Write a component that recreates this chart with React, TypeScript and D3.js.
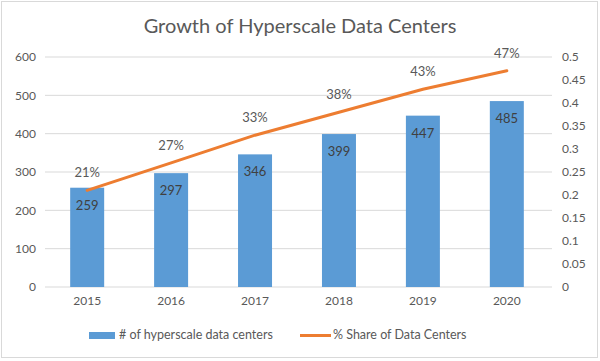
import * as d3 from "d3";

const years = ["2015", "2016", "2017", "2018", "2019", "2020"];
const centers = [259, 297, 346, 399, 447, 485];
const share = [0.21, 0.27, 0.33, 0.38, 0.43, 0.47];
const shareLabels = ["21%", "27%", "33%", "38%", "43%", "47%"];
const leftTicks = [0, 100, 200, 300, 400, 500, 600];
const rightTicks = [0, 0.05, 0.1, 0.15, 0.2, 0.25, 0.3, 0.35, 0.4, 0.45, 0.5];

const W = 600;
const H = 361;
const m = { t: 57, r: 51, b: 74, l: 45 };
const FONT = "Lato, 'Open Sans', sans-serif";
const TEXT = "#595959";
const BAR = "#5B9BD5";
const LINE = "#ED7D31";

const App = () => {
    const x = d3.scaleBand().domain(years).range([m.l, W - m.r]).paddingInner(0.595).paddingOuter(0.3);
    const yL = d3.scaleLinear().domain([0, 600]).range([H - m.b, m.t]);
    const yR = d3.scaleLinear().domain([0, 0.5]).range([H - m.b, m.t]);
    const cx = (yr: string) => (x(yr) || 0) + x.bandwidth() / 2;

    const line = d3.line<number>()
        .x((d, i) => cx(years[i]))
        .y((d) => yR(d));

    return (
        <svg width={W} height={H} style={{ position: "absolute", left: 0, top: 0, background: "#fff" }} fontFamily={FONT}>
            <rect x={1.5} y={1.5} width={W - 4} height={H - 5} fill="#fff" stroke="#d9d9d9" />
            <text x={W / 2} y={33} textAnchor="middle" fontSize={20} fill={TEXT}>Growth of Hyperscale Data Centers</text>

            {/* gridlines */}
            {leftTicks.map((t) => (
                <line key={t} x1={m.l} x2={W - m.r + 3} y1={yL(t)} y2={yL(t)} stroke="#d9d9d9" strokeWidth={1} />
            ))}

            {/* left axis labels */}
            {leftTicks.map((t) => (
                <text key={t} x={36} y={yL(t)} dy="0.35em" textAnchor="end" fontSize={12} fill={TEXT}>{t}</text>
            ))}

            {/* right axis labels */}
            {rightTicks.map((t) => (
                <text key={t} x={562} y={yR(t)} dy="0.35em" textAnchor="start" fontSize={12} fill={TEXT}>{d3.format("~g")(t)}</text>
            ))}

            {/* bars */}
            {centers.map((v, i) => (
                <rect key={years[i]} x={x(years[i])} y={yL(v)} width={x.bandwidth()} height={yL(0) - yL(v)} fill={BAR} />
            ))}
            {centers.map((v, i) => (
                <text key={years[i]} x={cx(years[i])} y={yL(v) + 22} textAnchor="middle" fontSize={13} fill="#404040">{v}</text>
            ))}

            {/* line */}
            <path d={line(share) || ""} fill="none" stroke={LINE} strokeWidth={3} strokeLinecap="round" />
            {share.map((v, i) => (
                <text key={years[i]} x={cx(years[i])} y={yR(v) - 13} textAnchor="middle" fontSize={13} fill={TEXT}>{shareLabels[i]}</text>
            ))}

            {/* x labels */}
            {years.map((yr) => (
                <text key={yr} x={cx(yr)} y={305} textAnchor="middle" fontSize={12} fill={TEXT}>{yr}</text>
            ))}

            {/* legend */}
            <rect x={89} y={332} width={26} height={7} fill={BAR} />
            <text x={119} y={335} dy="0.35em" fontSize={12.5} fill={TEXT}># of hyperscale data centers</text>
            <line x1={300} x2={331} y1={335.5} y2={335.5} stroke={LINE} strokeWidth={3} />
            <text x={333} y={335} dy="0.35em" fontSize={12.5} fill={TEXT}>% Share of Data Centers</text>
        </svg>
    );
};

export default App;
